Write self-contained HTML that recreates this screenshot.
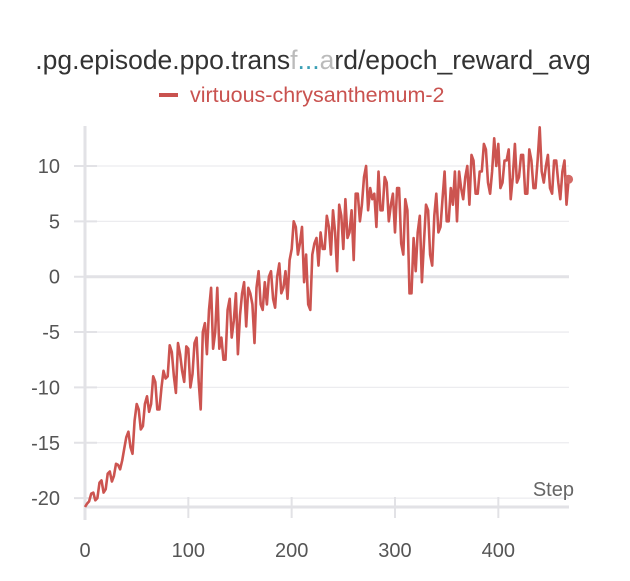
<!DOCTYPE html>
<html><head><meta charset="utf-8"><style>
body{margin:0;background:#fff;width:630px;height:576px;overflow:hidden;font-family:"Liberation Sans",sans-serif}
</style></head><body>
<svg width="630" height="576">
<text x="313" y="69" text-anchor="middle" font-size="26.5" fill="#333">.pg.episode.ppo.trans<tspan fill="#bbb">f</tspan><tspan fill="#3a9fb5">...</tspan><tspan fill="#bbb">a</tspan>rd/epoch_reward_avg</text>
<g>
<line x1="159" y1="95" x2="178" y2="95" stroke="#c9524f" stroke-width="4"/>
<text x="190" y="102" font-size="21.5" fill="#c9524f">virtuous-chrysanthemum-2</text>
</g>
<g id="grid"></g><g id="axes"></g><g id="series"></g>
<text x="574" y="496" text-anchor="end" font-size="20" fill="#666">Step</text>
</svg>
<script>
const yTicks=[10,5,0,-5,-10,-15,-20];
const xTicks=[0,100,200,300,400];
const rewards=[-20.8,-20.5,-20.3,-19.6,-19.5,-20.2,-20.0,-18.6,-18.4,-19.5,
-19.2,-17.8,-17.6,-18.5,-18.0,-16.9,-17.0,-17.4,-16.6,-15.5,
-14.5,-14.0,-15.4,-16.0,-13.0,-11.5,-12.0,-13.8,-13.5,-11.5,
-10.8,-12.2,-11.5,-9.0,-9.5,-12.0,-12.0,-10.0,-8.5,-9.2,
-9.0,-6.2,-6.8,-9.0,-10.5,-6.0,-7.0,-8.5,-9.5,-6.3,
-6.5,-10.0,-8.8,-6.0,-5.5,-9.5,-12.0,-5.0,-4.2,-7.0,
-3.0,-1.0,-6.5,-5.0,-1.0,-6.5,-5.5,-7.5,-7.5,-3.0,
-2.0,-5.5,-4.0,-1.5,-7.0,-3.5,-1.5,-0.5,-4.5,-1.0,
-1.5,-2.5,-6.0,-1.0,0.5,-2.5,-3.0,-0.5,-2.5,0.0,
0.5,-2.0,-2.8,0.0,1.2,-1.5,-1.0,0.5,-2.0,1.5,
2.5,5.0,4.5,2.0,3.0,4.5,-0.5,2.0,-2.5,-3.0,
2.0,3.0,3.5,1.0,4.0,2.5,2.5,5.5,4.5,2.0,
6.0,4.0,0.5,6.5,5.5,2.5,7.0,3.5,4.0,6.0,
1.5,7.5,7.5,5.0,6.5,9.0,10.0,6.0,8.0,7.0,
7.5,4.5,9.5,6.0,6.0,9.0,8.5,5.0,6.5,7.5,
4.0,8.0,8.0,3.0,2.0,7.0,6.0,-1.5,-1.5,3.5,
0.5,4.0,5.5,-0.5,3.0,6.5,6.0,2.0,1.0,5.5,
7.5,4.0,4.5,7.0,9.5,5.0,5.0,8.0,6.5,9.5,
5.0,9.5,8.0,7.0,9.0,10.0,6.5,11.0,10.5,7.5,
7.5,9.5,9.5,12.0,11.5,8.5,7.5,9.5,12.5,10.0,
12.0,8.0,8.5,10.5,10.5,11.5,7.0,9.0,12.0,8.5,
9.0,11.0,11.0,7.5,7.5,11.5,10.5,8.0,8.0,10.5,
13.5,9.5,8.5,10.0,11.0,8.0,7.5,10.5,10.5,8.5,
7.0,9.5,10.5,6.5,8.8];
const stepSize=2;
const steps=rewards.map((_,i)=>i*stepSize);
const X=s=>85+s*1.0333;
const Y=v=>276.7-v*11.07;
const NS="http://www.w3.org/2000/svg";
function mk(parent,tag,attrs){const e=document.createElementNS(NS,tag);for(const k in attrs)e.setAttribute(k,attrs[k]);document.getElementById(parent).appendChild(e);return e;}
yTicks.forEach(t=>{
 const g=mk('grid','line',{x1:85,x2:569,y1:Y(t),y2:Y(t),stroke:t===0?'#e2e2e6':'#ececef','stroke-width':t===0?3:1.3});
 
 
 const tk=mk('grid','line',{x1:74,x2:97,y1:Y(t),y2:Y(t),stroke:'#e2e2e6','stroke-width':2});
 
 
 const l=mk('axes','text',{x:60,y:Y(t)+7,'text-anchor':'end','font-size':20,fill:'#555'});
 l.textContent=t;
 
 
});
const ya=mk('axes','line',{x1:85,x2:85,y1:126,y2:520,stroke:'#e2e2e6','stroke-width':3});


const xa=mk('axes','line',{x1:85,x2:569,y1:507,y2:507,stroke:'#e2e2e6','stroke-width':3});


xTicks.forEach(t=>{
 const tk=mk('axes','line',{x1:X(t),x2:X(t),y1:497,y2:518,stroke:'#e2e2e6','stroke-width':2});
 
 
 const l=mk('axes','text',{x:X(t),y:557,'text-anchor':'middle','font-size':20,fill:'#555'});
 l.textContent=t;
 
 
});
const d=rewards.map((v,i)=>(i?'L':'M')+X(steps[i]).toFixed(1)+','+Y(v).toFixed(1)).join('');
const p=mk('series','path',{d:d,fill:'none',stroke:'#cc5450','stroke-width':2.6,'stroke-linejoin':'round'});


const n=rewards.length-1;
const c=mk('series','circle',{cx:X(steps[n]),cy:Y(rewards[n]),r:4.5,fill:'#d46a66'});


</script>
</body></html>
